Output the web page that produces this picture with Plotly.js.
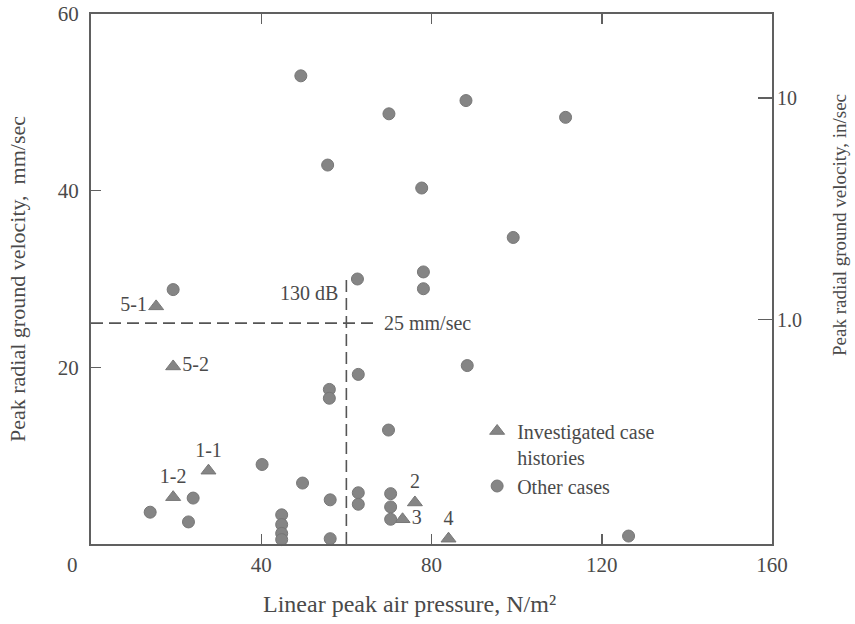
<!DOCTYPE html>
<html>
<head>
<meta charset="utf-8">
<script src="https://cdn.plot.ly/plotly-3.0.1.min.js"></script>
<style>
  html, body { margin: 0; padding: 0; background: #ffffff; }
  #chart { width: 855px; height: 624px; }
</style>
</head>
<body>
<div id="chart"></div>
<script>
// Investigated case histories (triangles) with their case labels
const caseLabels    = ['5-1', '5-2', '1-1', '1-2', '2', '3', '4'];
const casePressure  = [15.3, 19.3, 27.6, 19.3, 76.1, 73.2, 84.0];
const caseVelocity  = [26.9, 20.1, 8.3, 5.3, 4.7, 2.8, 0.6];

// Other cases (circles)
const otherPressure = [49.3, 70.0, 88.1, 111.5, 55.6, 77.7, 99.2, 78.1, 78.1, 62.6,
                       19.3, 62.8, 88.4, 56.0, 56.0, 69.9, 40.2, 49.7, 62.8, 62.8,
                       56.2, 70.4, 70.4, 70.4, 56.2, 24.0, 13.9, 22.9, 44.8, 44.8,
                       44.8, 44.8, 126.3];
const otherVelocity = [53.0, 48.7, 50.2, 48.3, 42.9, 40.3, 34.7, 30.8, 28.9, 30.0,
                       28.8, 19.2, 20.2, 17.5, 16.5, 12.9, 9.0, 6.9, 5.8, 4.5,
                       5.0, 5.7, 4.2, 2.8, 0.6, 5.2, 3.6, 2.5, 3.3, 2.2,
                       1.2, 0.5, 0.9];

// Axis ticks
const xTicks = [40, 80, 120, 160];
const yTicks = [20, 40, 60];
const inSecTickPos    = [25.4, 50.5];
const inSecTickLabels = ['1.0', '10'];

// Threshold guides: 130 dB air pressure and 25 mm/sec ground velocity
const pressureLimit = 60;
const pressureLimitTop = 30.5;
const velocityLimit = 25;
const velocityLimitEnd = 67;

const ink = '#4a4a4a';
const markGray = '#858585';
const serif = 'Liberation Serif, Times New Roman, serif';
const caseTextPos = ['middle left', 'middle right', 'top center', 'top center',
                     'top center', 'middle right', 'top center'];

const traces = [
  {
    x: casePressure, y: caseVelocity, text: caseLabels,
    type: 'scatter', mode: 'markers+text',
    name: 'Investigated case<br>histories',
    textposition: caseTextPos,
    textfont: {family: serif, size: 20, color: ink},
    marker: {symbol: 'triangle-up', size: 13, color: markGray,
             line: {color: '#777', width: 1}},
    cliponaxis: false
  },
  {
    x: otherPressure, y: otherVelocity,
    type: 'scatter', mode: 'markers',
    name: 'Other cases',
    marker: {symbol: 'circle', size: 12, color: markGray,
             line: {color: '#777', width: 1}},
    cliponaxis: false
  },
  {
    // carries the right-hand in/sec scale
    x: [null], y: [null], yaxis: 'y2', type: 'scatter', mode: 'markers',
    showlegend: false, hoverinfo: 'skip'
  }
];

const layout = {
  width: 855, height: 624,
  margin: {l: 91, r: 83, t: 14, b: 80},
  paper_bgcolor: '#ffffff', plot_bgcolor: '#ffffff',
  font: {family: serif, size: 21, color: ink},
  showlegend: true,
  legend: {
    x: 0.567, y: 0.25, xanchor: 'left', yanchor: 'top',
    bgcolor: 'rgba(0,0,0,0)', borderwidth: 0,
    font: {family: serif, size: 20, color: ink},
    valign: 'top', itemwidth: 30, tracegroupgap: 0
  },
  xaxis: {
    range: [0, 160], showgrid: false, zeroline: false,
    showline: true, linecolor: '#606060', linewidth: 2, mirror: 'ticks',
    ticks: 'inside', ticklen: 10, tickwidth: 1.5, tickcolor: '#606060',
    tickvals: xTicks, ticktext: xTicks.map(String),
    ticklabelstandoff: 1,
    tickfont: {family: serif, size: 21, color: ink}
  },
  yaxis: {
    range: [0, 60], showgrid: false, zeroline: false,
    showline: true, linecolor: '#606060', linewidth: 2, mirror: true,
    ticks: 'inside', ticklen: 10, tickwidth: 1.5, tickcolor: '#606060',
    tickvals: yTicks, ticktext: yTicks.map(String),
    ticklabelstandoff: 6,
    tickfont: {family: serif, size: 21, color: ink}
  },
  yaxis2: {
    overlaying: 'y', side: 'right', range: [0, 60],
    showgrid: false, zeroline: false, showline: false,
    ticks: 'inside', ticklen: 14, tickwidth: 1.5, tickcolor: '#606060',
    tickvals: inSecTickPos, ticktext: inSecTickLabels,
    ticklabelstandoff: 4,
    tickfont: {family: serif, size: 20, color: ink}
  },
  shapes: [
    {type: 'line', xref: 'x', yref: 'y', x0: 0, x1: velocityLimitEnd,
     y0: velocityLimit, y1: velocityLimit,
     line: {color: '#555', width: 1.6, dash: '12px,6px'}},
    {type: 'line', xref: 'x', yref: 'y', x0: pressureLimit, x1: pressureLimit,
     y0: 0, y1: pressureLimitTop,
     line: {color: '#555', width: 1.6, dash: '12px,6px'}}
  ],
  annotations: [
    {text: '0', xref: 'paper', yref: 'paper', x: (80 - 91) / 681, y: (544 - 565) / 530,
     xanchor: 'right', yanchor: 'middle', showarrow: false,
     font: {family: serif, size: 21, color: ink}},
    {text: '130 dB', xref: 'x', yref: 'y', x: pressureLimit, y: 28.4,
     xanchor: 'right', xshift: -6, showarrow: false,
     font: {family: serif, size: 20, color: ink}},
    {text: '25 mm/sec', xref: 'x', yref: 'y', x: velocityLimitEnd, y: velocityLimit,
     xanchor: 'left', xshift: 6, showarrow: false,
     font: {family: serif, size: 20, color: ink}},
    {text: 'Linear peak air pressure, N/m²', xref: 'paper', yref: 'paper',
     x: (409 - 91) / 681, y: (544 - 604) / 530, xanchor: 'center', yanchor: 'middle',
     showarrow: false, font: {family: serif, size: 24, color: ink}},
    {text: 'Peak radial ground velocity,  mm/sec', xref: 'paper', yref: 'paper',
     x: (17 - 91) / 681, y: 0.5, xanchor: 'center', yanchor: 'middle',
     textangle: -90, showarrow: false, font: {family: serif, size: 22, color: ink}},
    {text: 'Peak radial ground velocity, in/sec', xref: 'paper', yref: 'paper',
     x: (839 - 91) / 681, y: (544 - 225) / 530, xanchor: 'center', yanchor: 'middle',
     textangle: -90, showarrow: false, font: {family: serif, size: 19, color: ink}}
  ]
};

Plotly.newPlot('chart', traces, layout, {displayModeBar: false, staticPlot: true});
</script>
</body>
</html>
